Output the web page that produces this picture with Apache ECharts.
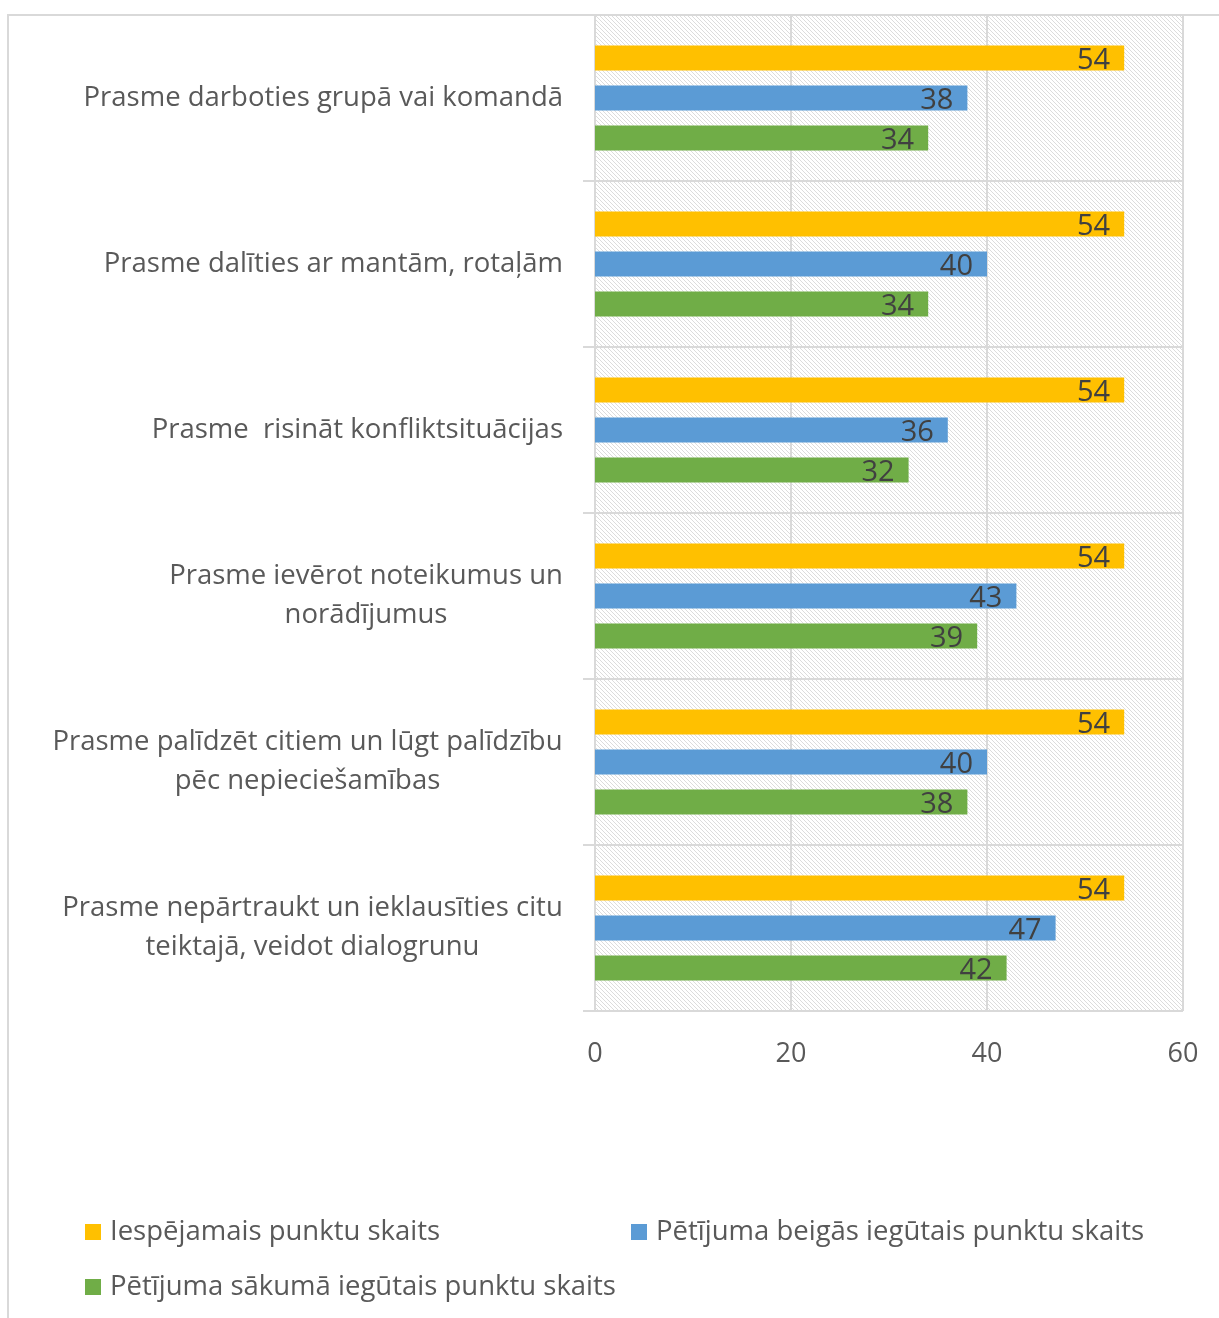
<!DOCTYPE html>
<html>
<head>
<meta charset="utf-8">
<script src="https://cdn.jsdelivr.net/npm/echarts@6/dist/echarts.min.js"></script>
<style>
  html, body { margin: 0; padding: 0; background: #fff; }
  #chart { width: 1219px; height: 1318px; }
</style>
</head>
<body>
<div id="chart"></div>
<script>
// categories, top to bottom
const categories = [
  'Prasme darboties grupā vai komandā',
  'Prasme dalīties ar mantām, rotaļām',
  'Prasme  risināt konfliktsituācijas',
  'Prasme ievērot noteikumus un\nnorādījumus',
  'Prasme palīdzēt citiem un lūgt palīdzību\npēc nepieciešamības',
  'Prasme nepārtraukt un ieklausīties citu\nteiktajā, veidot dialogrunu',
];
const seriesNames = [
  'Iespējamais punktu skaits',
  'Pētījuma beigās iegūtais punktu skaits',
  'Pētījuma sākumā iegūtais punktu skaits',
];
const possible = [54, 54, 54, 54, 54, 54];
const atEnd = [38, 40, 36, 43, 40, 47];
const atStart = [34, 34, 32, 39, 38, 42];
const xTicks = [0, 20, 40, 60];

const colors = ['#FFC000', '#5B9BD5', '#70AD47'];
const gray = '#d9d9d9';
const textColor = '#595959';
const font = '"Open Sans", sans-serif';
const labelSize = 27.5;

// hatched plot background
function hatch() {
  const c = document.createElement('canvas');
  c.width = 8;
  c.height = 8;
  const g = c.getContext('2d');
  g.fillStyle = '#fff';
  g.fillRect(0, 0, 8, 8);
  g.fillStyle = '#dcdcdc';
  for (let i = 0; i < 8; i++) {
    g.fillRect(i, i, 1, 1);
    g.fillRect(i, (i + 4) % 8, 1, 1);
  }
  return c;
}

// wrapped labels: lines centred on each other, block right aligned
const measure = document.createElement('canvas').getContext('2d');
measure.font = labelSize + 'px "Open Sans"';
const rich = {};
categories.forEach((c, i) => {
  const lines = c.split('\n');
  if (lines.length > 1) {
    const w = Math.max(...lines.map((l) => measure.measureText(l).width));
    rich['c' + i] = {
      width: Math.ceil(w),
      align: 'center',
      fontFamily: font,
      fontSize: labelSize,
      color: textColor,
      lineHeight: 39,
    };
  }
});

const barLabel = {
  show: true,
  position: 'insideRight',
  distance: 14,
  offset: [0, 3],
  color: '#404040',
  fontFamily: font,
  fontSize: 29,
};

const legendText = { color: textColor, fontFamily: font, fontSize: 27.5, padding: [0, 0, 0, 4] };

const chart = echarts.init(document.getElementById('chart'));
chart.setOption({
  animation: false,
  color: colors,
  graphic: [
    {
      type: 'rect',
      shape: { x: 8, y: 15, width: 1400, height: 1400 },
      style: { fill: 'none', stroke: gray, lineWidth: 2 },
      z: 100,
      silent: true,
    },
  ],
  grid: {
    left: 595,
    right: 36,
    top: 15,
    bottom: 307,
    show: true,
    borderWidth: 0,
    backgroundColor: { image: hatch(), repeat: 'repeat' },
  },
  legend: [
    { left: 85, top: 1218, padding: 0, itemWidth: 16, itemHeight: 16, icon: 'rect', textStyle: legendText, data: [seriesNames[0]] },
    { left: 631, top: 1218, padding: 0, itemWidth: 16, itemHeight: 16, icon: 'rect', textStyle: legendText, data: [seriesNames[1]] },
    { left: 85, top: 1273, padding: 0, itemWidth: 16, itemHeight: 16, icon: 'rect', textStyle: legendText, data: [seriesNames[2]] },
  ],
  xAxis: {
    type: 'value',
    min: xTicks[0],
    max: xTicks[xTicks.length - 1],
    interval: 20,
    axisLine: { show: false },
    axisTick: { show: false },
    axisLabel: { color: textColor, fontFamily: font, fontSize: 27, margin: 30 },
    splitLine: { show: true, lineStyle: { color: gray, width: 2 } },
  },
  yAxis: {
    type: 'category',
    inverse: true,
    data: categories,
    axisLine: { show: true, lineStyle: { color: gray, width: 2 } },
    axisTick: { show: true, length: 12, lineStyle: { color: gray, width: 2 } },
    splitLine: { show: true, lineStyle: { color: gray, width: 2 } },
    axisLabel: {
      color: textColor,
      fontFamily: font,
      fontSize: labelSize,
      lineHeight: 39,
      margin: 32,
      rich: rich,
      formatter: (value, index) => {
        const lines = value.split('\n');
        if (lines.length === 1) return value;
        return lines.map((l) => '{c' + index + '|' + l + '}').join('\n');
      },
    },
  },
  series: [
    { name: seriesNames[0], type: 'bar', data: possible, barWidth: 25, barGap: '60%', label: barLabel },
    { name: seriesNames[1], type: 'bar', data: atEnd, barWidth: 25, barGap: '60%', label: barLabel },
    { name: seriesNames[2], type: 'bar', data: atStart, barWidth: 25, barGap: '60%', label: barLabel },
  ],
});
</script>
</body>
</html>
